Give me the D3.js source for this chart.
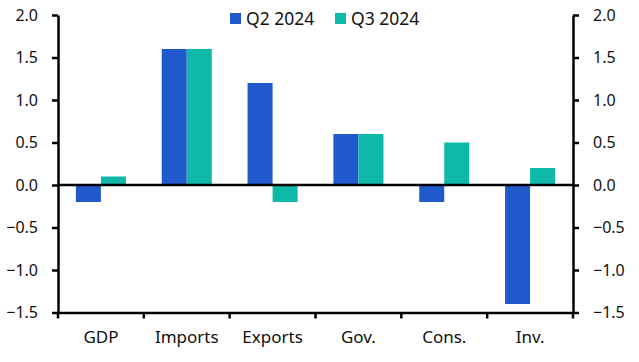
<!DOCTYPE html>
<html>
<head>
<meta charset="utf-8">
<script src="https://cdn.jsdelivr.net/npm/d3@7"></script>
<style>
  body { margin: 0; background: #fff; }
  text { font-family: "Noto Sans", sans-serif; fill: #111; }
</style>
</head>
<body>
<svg id="chart" width="639" height="362"></svg>
<script>
// data
const categories = ["GDP", "Imports", "Exports", "Gov.", "Cons.", "Inv."];
const seriesNames = ["Q2 2024", "Q3 2024"];
const q2 = [-0.2, 1.6, 1.2, 0.6, -0.2, -1.4];
const q3 = [0.1, 1.6, -0.2, 0.6, 0.5, 0.2];
const yTicks = [-1.5, -1.0, -0.5, 0.0, 0.5, 1.0, 1.5, 2.0];
const colors = ["#2059cc", "#0fb9a9"];

const svg = d3.select("#chart");
const mLeft = 58, mRight = 573, mTop = 15, mBottom = 312.5;

const x = d3.scaleBand().domain(categories).range([mLeft, mRight]).paddingInner(0).paddingOuter(0);
const xs = d3.scaleBand().domain(seriesNames).range([0, x.bandwidth()]).paddingInner(0).paddingOuter(0.715);
const y = d3.scaleLinear().domain([-1.5, 2.0]).range([mBottom, mTop]);

const rows = categories.map((c, i) => ({cat: c, vals: [q2[i], q3[i]]}));

// bars
const g = svg.append("g");
g.selectAll("g.cat")
  .data(rows)
  .join("g")
  .attr("class", "cat")
  .attr("transform", d => `translate(${x(d.cat)},0)`)
  .selectAll("rect")
  .data(d => d.vals.map((v, j) => ({s: seriesNames[j], v: v, j: j})))
  .join("rect")
  .attr("x", d => xs(d.s))
  .attr("width", xs.bandwidth())
  .attr("y", d => y(Math.max(0, d.v)))
  .attr("height", d => Math.abs(y(d.v) - y(0)))
  .attr("fill", d => colors[d.j]);

// zero line
svg.append("line")
  .attr("x1", mLeft).attr("x2", mRight)
  .attr("y1", y(0)).attr("y2", y(0))
  .attr("stroke", "#000").attr("stroke-width", 2.5);

const fmt = d3.format(".1f");

// left axis
const yl = svg.append("g").attr("transform", `translate(${mLeft},0)`)
  .call(d3.axisLeft(y).tickValues(yTicks).tickFormat(fmt).tickSize(6).tickSizeOuter(0).tickPadding(14));
// right axis
const yr = svg.append("g").attr("transform", `translate(${mRight},0)`)
  .call(d3.axisRight(y).tickValues(yTicks).tickFormat(fmt).tickSize(6).tickSizeOuter(0).tickPadding(14));
[yl, yr].forEach(a => {
  a.select(".domain").attr("stroke", "#000").attr("stroke-width", 2.5);
  a.selectAll(".tick line").attr("stroke", "#000").attr("stroke-width", 2.5);
  a.selectAll(".tick text").style("font-size", "16px").attr("fill", "#111");
});

// bottom axis
const xa = svg.append("g").attr("transform", `translate(0,${mBottom})`)
  .call(d3.axisBottom(x).tickSize(0).tickPadding(18));
xa.select(".domain").attr("stroke", "#000").attr("stroke-width", 2.5);
xa.selectAll(".tick text").style("font-size", "17px").attr("fill", "#111");
// category separator ticks
const bounds = categories.map(c => x(c)).concat([mRight]);
xa.selectAll("line.sep")
  .data(bounds)
  .join("line")
  .attr("class", "sep")
  .attr("x1", d => d).attr("x2", d => d)
  .attr("y1", 0).attr("y2", 6)
  .attr("stroke", "#000").attr("stroke-width", 2.5);

// legend
const legendX = [230, 335];
const lg = svg.append("g").selectAll("g")
  .data(seriesNames)
  .join("g")
  .attr("transform", (d, i) => `translate(${legendX[i]},13)`);
lg.append("rect").attr("width", 11).attr("height", 11).attr("fill", (d, i) => colors[i]);
lg.append("text").attr("x", 16).attr("y", 11.5).style("font-size", "17.5px").text(d => d);
</script>
</body>
</html>
